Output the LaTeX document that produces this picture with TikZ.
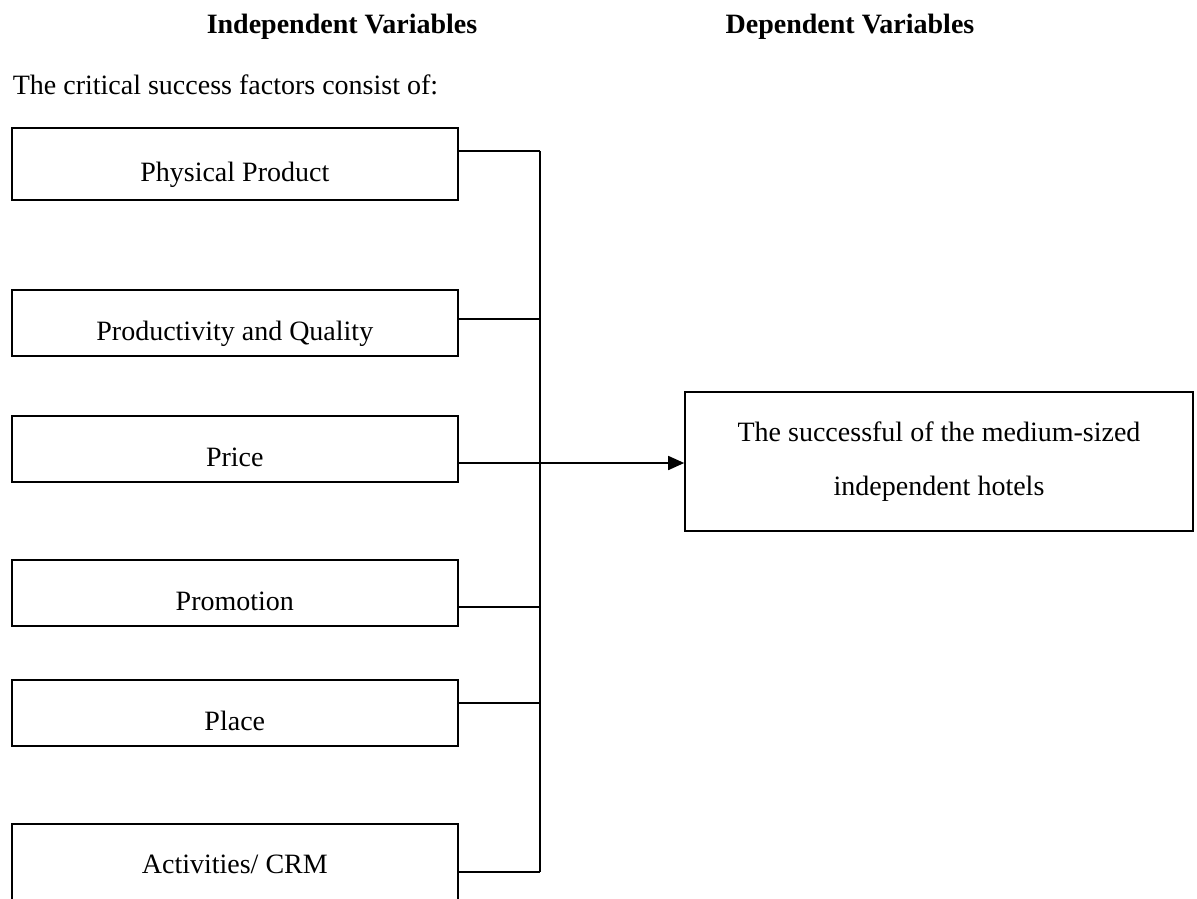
\documentclass[tikz,border=0pt]{standalone}
\usepackage{fontspec}
\setmainfont{Liberation Serif}
\usetikzlibrary{arrows.meta}
\begin{document}
\begin{tikzpicture}[x=0.5pt,y=-0.5pt,line width=0.8pt,
  font=\fontsize{14pt}{17pt}\selectfont,
  factor/.style={draw,anchor=north west,minimum width=223pt,minimum height=33pt,
    text height=21pt,text depth=3pt,inner sep=0pt},
  title/.style={inner sep=0pt,font=\fontsize{14pt}{17pt}\selectfont\bfseries},
  >={Triangle[length=8pt,width=7pt]}]
\useasboundingbox (0,0) rectangle (1197,898);
\node[title] (indep) at (342,27) {Independent Variables};
\node[title] (depend) at (850,27) {Dependent Variables};
\node[inner sep=0pt,anchor=west] (intro) at (12,85) {The critical success factors consist of:};
\node[factor,minimum height=36pt] (pp) at (11,127) {Physical Product};
\node[factor] (pq) at (11,289) {Productivity and Quality};
\node[factor] (price) at (11,415) {Price};
\node[factor] (promo) at (11,559) {Promotion};
\node[factor] (place) at (11,679) {Place};
\node[factor,minimum height=43pt,text height=10pt] (crm) at (11,823) {Activities/ CRM};
\node[draw,minimum width=254pt,minimum height=69.5pt,align=center,
  font=\fontsize{14pt}{27pt}\selectfont] (dep) at (939,461.5)
  {The successful of the medium-sized\\independent hotels};
\coordinate (b1) at (540,151);
\coordinate (b2) at (540,319);
\coordinate (b3) at (540,463);
\coordinate (b4) at (540,607);
\coordinate (b5) at (540,703);
\coordinate (b6) at (540,872);
\draw (pp.east |- b1) -- (b1);
\draw (pq.east |- b2) -- (b2);
\draw (promo.east |- b4) -- (b4);
\draw (place.east |- b5) -- (b5);
\draw (crm.east |- b6) -- (b6);
\draw (b1) -- (b6);
\draw[->] (price.east |- b3) -- (dep.west |- b3);
\end{tikzpicture}
\end{document}
